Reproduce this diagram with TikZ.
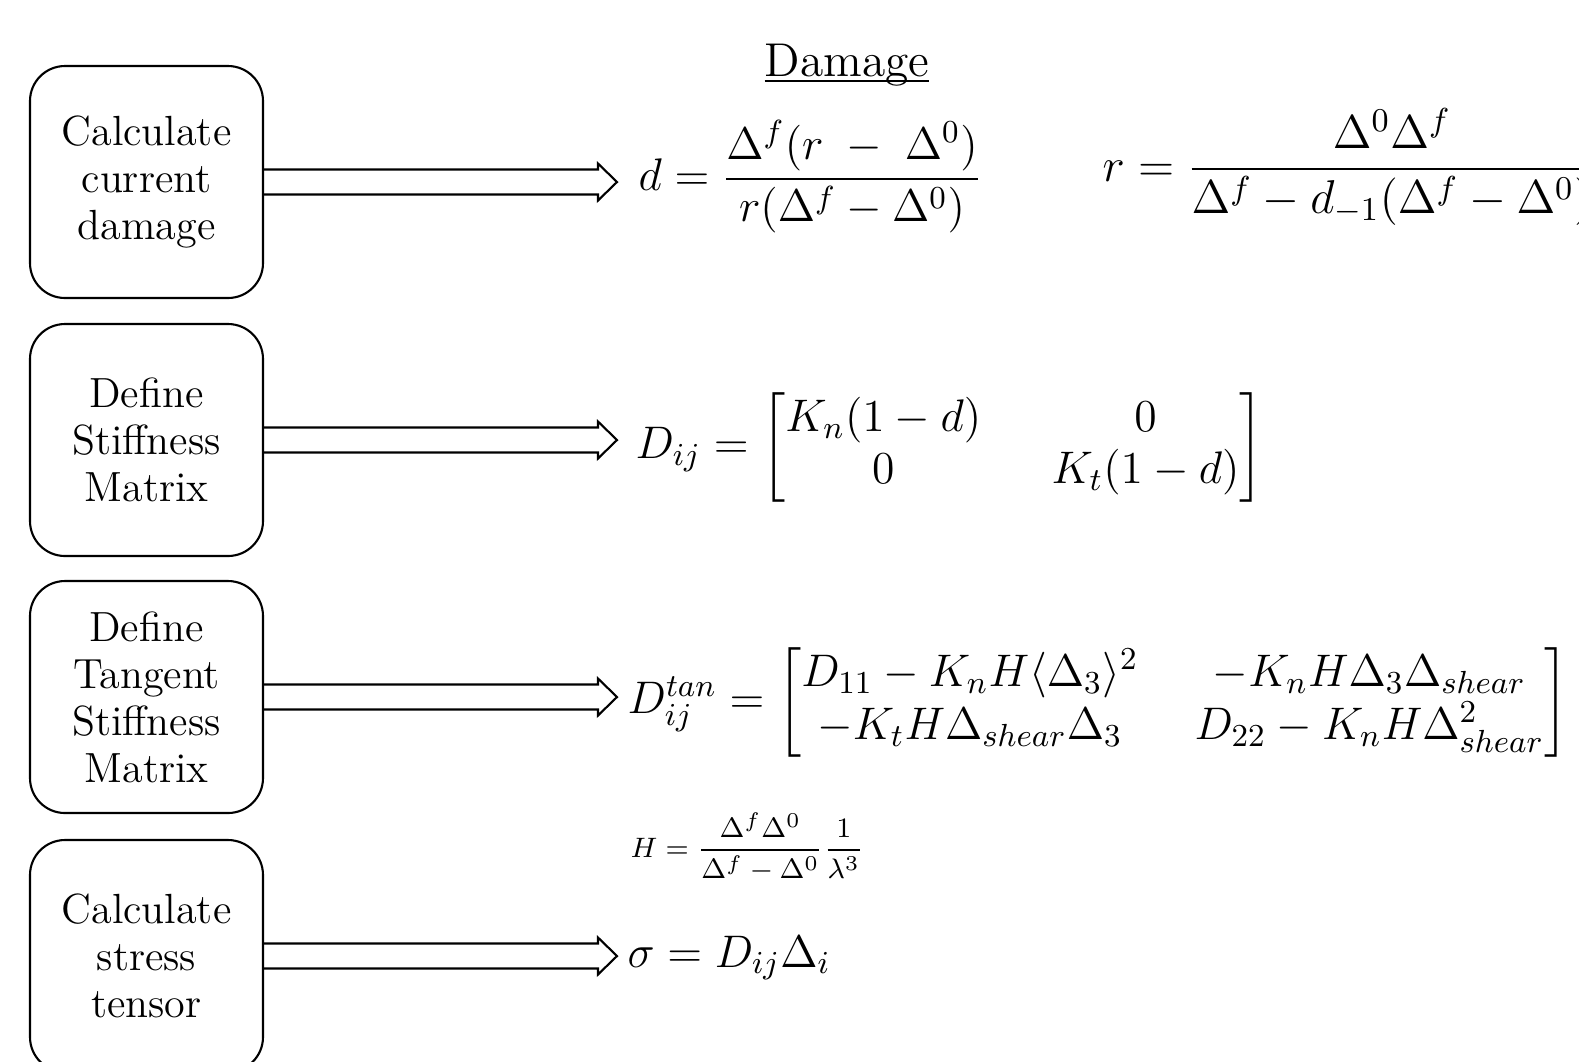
\RequirePackage{fix-cm}
\documentclass[tikz,border=0pt]{standalone}
\usepackage{amsmath}
\usepackage{amssymb}
\usepackage{tikz}
\usetikzlibrary{arrows.meta, positioning, calc}

\newsavebox{\titlebox}
\newcommand{\lowline}[1]{\sbox{\titlebox}{#1}\rlap{\rule[-1.6pt]{\wd\titlebox}{0.6pt}}\usebox{\titlebox}}

\begin{document}
\begin{tikzpicture}[
  box/.style={draw, rounded corners=0.35cm, line width=0.6pt, minimum width=2.33cm, minimum height=2.32cm, align=center, font=\fontsize{12}{13.4}\selectfont},
  eq/.style={anchor=west, inner sep=0pt, font=\fontsize{13}{15}\selectfont},
  fatarr/.style={draw, line width=0.6pt, to path={
      ($(\tikztostart)+(0,0.125)$) -- ($(\tikztotarget)+(-0.19,0.125)$) -- ++(0,0.06)
      -- (\tikztotarget)
      -- ($(\tikztotarget)+(-0.19,-0.185)$) -- ++(0,0.06) -- ($(\tikztostart)+(0,-0.125)$)}}
]
\useasboundingbox (0,0) rectangle (15.79,-10.61);
\clip (0,0) rectangle (15.79,-10.61);

% ----- Steps (left column) -----
\node[box] (dmg)    at (1.465,-1.82) {Calculate\\current\\damage};
\node[box] (stiff)  at (1.465,-4.40) {Define\\Stiffness\\Matrix};
\node[box] (tang)   at (1.465,-6.97) {Define\\Tangent\\Stiffness\\Matrix};
\node[box] (stress) at (1.465,-9.56) {Calculate\\stress\\tensor};

% ----- Equations -----
\node[font=\fontsize{13.5}{15}\selectfont] (title) at (8.47,-0.65) {\lowline{Damage}};
\node[eq] (eqd) at (6.38,-1.77)
  {$\displaystyle d = \frac{\Delta^f(r\;-\;\Delta^0)}{r(\Delta^f-\Delta^0)}$};
\node[eq, font=\fontsize{13.5}{15}\selectfont] (eqr) at (11.02,-1.67)
  {$\displaystyle r = \frac{\Delta^0\Delta^f}{\Delta^f-d_{-1}(\Delta^f-\Delta^0)}$};
\node[eq] (eqD) at (6.35,-4.47)
  {\setlength{\arraycolsep}{10pt}$D_{ij} = \begin{bmatrix} K_n(1-d) & 0\\ 0 & K_t(1-d)\end{bmatrix}$};
\node[eq] (eqDtan) at (6.27,-7.02)
  {\setlength{\arraycolsep}{8pt}$D_{ij}^{tan} = \begin{bmatrix} D_{11}-K_nH\langle\Delta_3\rangle^2 & -K_nH\Delta_3\Delta_{shear}\\ -K_tH\Delta_{shear}\Delta_3 & D_{22}-K_nH\Delta_{shear}^2\end{bmatrix}$};
\node[eq, font=\fontsize{8}{9}\selectfont] (eqH) at (6.30,-8.47)
  {$\displaystyle H = \frac{\Delta^f\Delta^0}{\Delta^f-\Delta^0}\frac{1}{\lambda^3}$};
\node[eq] (eqsig) at (6.27,-9.58) {$\sigma = D_{ij}\Delta_i$};

% ----- Arrows -----
\coordinate (tipcol) at (6.17,0);
\draw[fatarr] (dmg.east)    to (dmg.east -| tipcol);
\draw[fatarr] (stiff.east)  to (stiff.east -| tipcol);
\draw[fatarr] (tang.east)   to (tang.east -| tipcol);
\draw[fatarr] (stress.east) to (stress.east -| tipcol);

\end{tikzpicture}
\end{document}
